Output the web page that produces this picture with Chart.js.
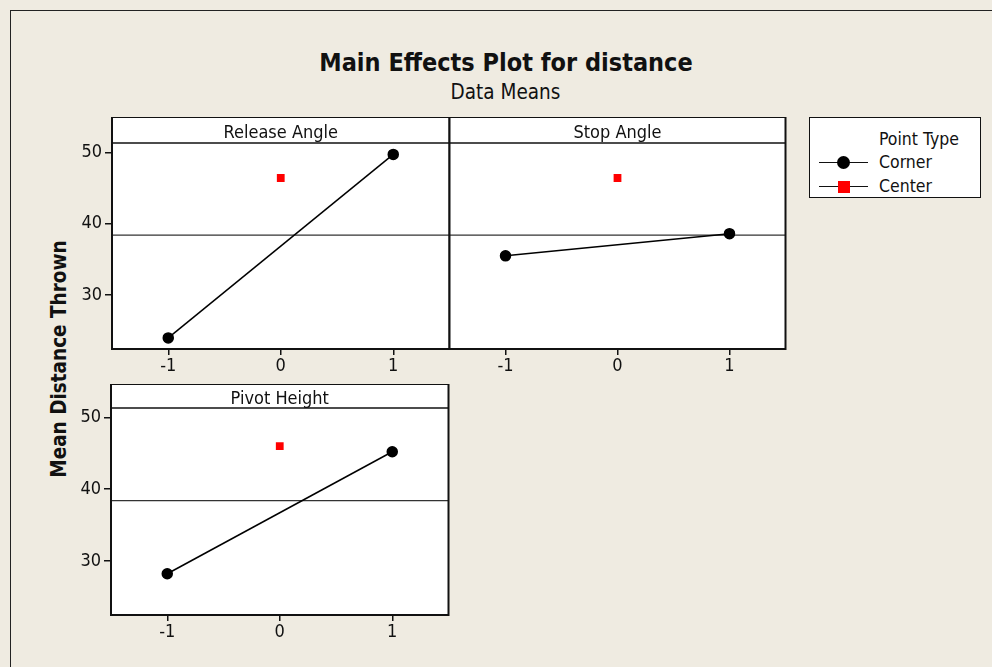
<!DOCTYPE html>
<html>
<head>
<meta charset="utf-8">
<script src="https://cdn.jsdelivr.net/npm/chart.js@4"></script>
<style>
body{margin:0;background:#efebe1;width:992px;height:667px;overflow:hidden;position:relative;
font-family:"DejaVu Sans Condensed","DejaVu Sans",sans-serif;color:#111;}
#frame{position:absolute;left:10px;top:10px;width:1000px;height:700px;border-left:1px solid #222;border-top:1px solid #222;}
.panel{position:absolute;}
#title{position:absolute;left:0;width:1012px;top:48px;text-align:center;font-weight:bold;font-size:25px;}
#subtitle{position:absolute;left:0;width:1011px;top:80px;text-align:center;font-size:20.5px;}
#ylab{position:absolute;left:59px;top:359px;transform:translate(-50%,-50%) rotate(-90deg);font-weight:bold;font-size:20.5px;white-space:nowrap;}
#legend{position:absolute;left:809px;top:117px;width:170px;height:79px;border:1px solid #111;background:#fff;font-size:17.5px;}
#legend .row{position:absolute;left:0;width:170px;height:20px;}
#legend .ln{position:absolute;left:9px;width:49px;top:10px;border-top:1.5px solid #111;}
#legend .dot{position:absolute;left:27px;top:4px;width:13px;height:13px;border-radius:50%;background:#000;}
#legend .sq{position:absolute;left:28px;top:5px;width:12px;height:12px;background:#f00;}
#legend .tx{position:absolute;left:69px;top:0;line-height:20px;}
</style>
</head>
<body>
<div id="frame"></div>
<div id="title">Main Effects Plot for distance</div>
<div id="subtitle">Data Means</div>
<div id="ylab">Mean Distance Thrown</div>

<div class="panel" style="left:62px;top:117px"><canvas id="p1" width="394" height="270"></canvas></div>
<div class="panel" style="left:443px;top:117px"><canvas id="p2" width="349" height="270"></canvas></div>
<div class="panel" style="left:61px;top:384px"><canvas id="p3" width="394" height="269"></canvas></div>

<div id="legend">
  <div class="row" style="top:11px"><span class="tx">Point Type</span></div>
  <div class="row" style="top:34px"><div class="ln"></div><div class="dot"></div><span class="tx">Corner</span></div>
  <div class="row" style="top:58px"><div class="ln"></div><div class="sq"></div><span class="tx">Center</span></div>
</div>

<script>
const factors = ["Release Angle","Stop Angle","Pivot Height"];
const levels = [-1,0,1];
const cornerLow = [24.0,35.5,28.2];
const cornerHigh = [49.7,38.6,45.2];
const centerMean = [46.4,46.4,46.0];
const grandMean = 38.4;
const yTicks = [30,40,50];

const FONT = '"DejaVu Sans Condensed","DejaVu Sans",sans-serif';

// white panel + strip header box drawn around chart area
const panelFrame = {
  id:'panelFrame',
  beforeDraw(chart,args,opts){
    const ctx = chart.ctx, a = chart.chartArea;
    ctx.save();
    ctx.fillStyle = '#fff';
    ctx.fillRect(a.left, a.top-opts.strip, a.right-a.left, a.bottom-a.top+opts.strip);
    ctx.restore();
  },
  afterDraw(chart,args,opts){
    const ctx = chart.ctx, a = chart.chartArea;
    const top = a.top-opts.strip;
    ctx.save();
    ctx.strokeStyle = '#111';
    ctx.lineWidth = 2;
    ctx.strokeRect(a.left, top, a.right-a.left, a.bottom-top);
    ctx.lineWidth = 1.5;
    ctx.beginPath();
    ctx.moveTo(a.left, a.top);
    ctx.lineTo(a.right, a.top);
    ctx.stroke();
    ctx.fillStyle = '#111';
    ctx.font = '18px '+FONT;
    ctx.textAlign = 'center';
    ctx.textBaseline = 'middle';
    ctx.fillText(opts.label, (a.left+a.right)/2, top+opts.strip/2+3);
    ctx.restore();
  }
};

function makePanel(id,i,showY,strip,padLeft){
  new Chart(document.getElementById(id),{
    type:'line',
    data:{
      datasets:[
        {label:'Corner',data:[{x:levels[0],y:cornerLow[i]},{x:levels[2],y:cornerHigh[i]}],
         borderColor:'#000',borderWidth:1.5,pointRadius:5,pointBackgroundColor:'#000',pointBorderColor:'#000'},
        {label:'Center',data:[{x:levels[1],y:centerMean[i]}],showLine:false,
         pointStyle:'rect',pointRadius:5.5,pointBackgroundColor:'#f00',pointBorderColor:'#f00',borderWidth:0},
        {label:'Mean',data:[{x:-1.5,y:grandMean},{x:1.5,y:grandMean}],
         borderColor:'#333',borderWidth:1.2,pointRadius:0}
      ]
    },
    options:{
      responsive:false,
      animation:false,
      events:[],
      layout:{padding:{top:strip,right:5,left:padLeft,bottom:0}},
      plugins:{
        legend:{display:false},
        tooltip:{enabled:false},
        panelFrame:{strip:strip,label:factors[i]}
      },
      scales:{
        x:{
          type:'linear',min:-1.5,max:1.5,
          afterBuildTicks:s=>{s.ticks=levels.map(v=>({value:v}));},
          afterFit:s=>{s.height=38;},
          grid:{drawOnChartArea:false,drawTicks:true,tickLength:6,color:'#111',lineWidth:1.5},
          border:{display:false},
          ticks:{color:'#111',padding:1,font:{family:FONT,size:18}}
        },
        y:{
          display:showY,
          min:22.45,max:51.3,
          afterBuildTicks:s=>{s.ticks=yTicks.map(v=>({value:v}));},
          afterFit:s=>{s.width=showY?50:0;},
          grid:{drawOnChartArea:false,drawTicks:true,tickLength:7,color:'#111',lineWidth:1.5},
          border:{display:false},
          ticks:{color:'#111',padding:3,font:{family:FONT,size:18}}
        }
      }
    },
    plugins:[panelFrame]
  });
}

makePanel('p1',0,true,26,0);
makePanel('p2',1,false,26,2);
makePanel('p3',2,true,24,0);
</script>
</body>
</html>
